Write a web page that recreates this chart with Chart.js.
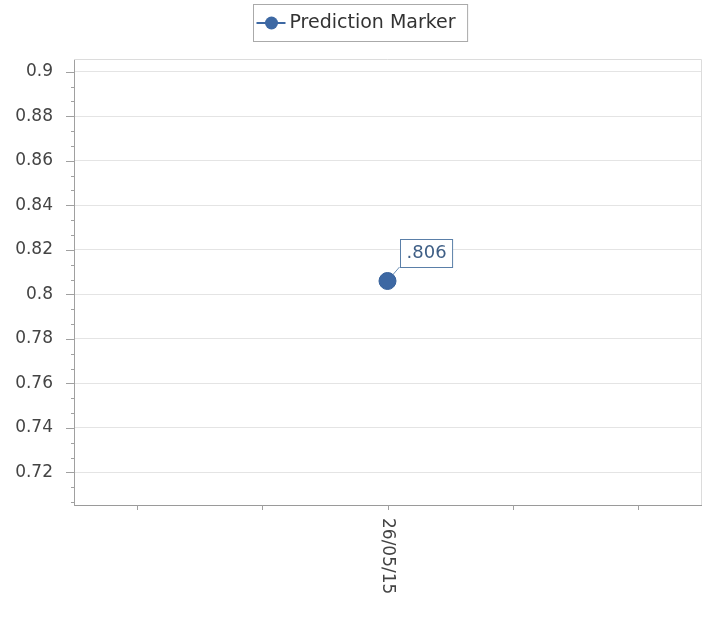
<!DOCTYPE html>
<html>
<head>
<meta charset="utf-8">
<script src="https://cdn.jsdelivr.net/npm/chart.js@4"></script>
<style>
  html, body { margin: 0; padding: 0; background: #fff; }
</style>
</head>
<body>
<canvas id="chart" width="714" height="618"></canvas>
<script>
const categories = ['', '', '26/05/15', '', ''];
const predictionValues = [null, null, 0.806, null, null];
const pointLabels = [null, null, '.806', null, null];
const yTickValues = [0.72, 0.74, 0.76, 0.78, 0.8, 0.82, 0.84, 0.86, 0.88, 0.9];
const yMin = 0.7054;
const yMax = 0.9057;
const seriesName = 'Prediction Marker';

const markerColor = '#3d68a3';
const fontFamily = '"DejaVu Sans", Verdana, sans-serif';

// frame, tick marks, label connector (under the point)
const decorPlugin = {
    id: 'decor',
    beforeDatasetsDraw(chart) {
        const { ctx, chartArea, scales } = chart;
        ctx.save();
        ctx.strokeStyle = '#dcdcdc';
        ctx.lineWidth = 1;
        ctx.beginPath();
        ctx.moveTo(chartArea.left, chartArea.top + 0.5);
        ctx.lineTo(chartArea.right + 0.5, chartArea.top + 0.5);
        ctx.lineTo(chartArea.right + 0.5, chartArea.bottom);
        ctx.stroke();

        // y ticks, major + two minor between each
        ctx.strokeStyle = '#a0a0a0';
        const step = (yTickValues[1] - yTickValues[0]) / 3;
        const first = yTickValues[0] - 3 * step;
        for (let i = 0; i < (yTickValues.length + 1) * 3; i++) {
            const v = first + i * step;
            if (v < yMin || v > yMax) continue;
            const y = Math.round(scales.y.getPixelForValue(v)) + 0.5;
            const len = i % 3 === 0 ? 8 : 3;
            ctx.beginPath();
            ctx.moveTo(chartArea.left - len, y);
            ctx.lineTo(chartArea.left, y);
            ctx.stroke();
        }

        // x ticks
        categories.forEach((c, i) => {
            const x = Math.round(scales.x.getPixelForValue(i)) + 0.5;
            ctx.beginPath();
            ctx.moveTo(x, chartArea.bottom);
            ctx.lineTo(x, chartArea.bottom + 5);
            ctx.stroke();
        });

        // connector for data labels
        const meta = chart.getDatasetMeta(0);
        ctx.strokeStyle = '#6d8fb5';
        meta.data.forEach((pt, i) => {
            if (!pointLabels[i] || predictionValues[i] == null) return;
            ctx.beginPath();
            ctx.moveTo(pt.x, pt.y);
            ctx.lineTo(pt.x + 12, pt.y - 14);
            ctx.stroke();
        });
        ctx.restore();
    },
    afterDraw(chart) {
        const { ctx, scales, chartArea } = chart;
        ctx.save();

        // data label boxes
        const meta = chart.getDatasetMeta(0);
        ctx.font = '18px ' + fontFamily;
        meta.data.forEach((pt, i) => {
            if (!pointLabels[i] || predictionValues[i] == null) return;
            const w = ctx.measureText(pointLabels[i]).width + 12;
            const left = Math.round(pt.x + 12) + 0.5;
            const bottom = Math.round(pt.y - 14) + 0.5;
            ctx.fillStyle = '#fff';
            ctx.fillRect(left, bottom - 28, w, 28);
            ctx.strokeStyle = '#5a7fa8';
            ctx.strokeRect(left, bottom - 28, w, 28);
            ctx.fillStyle = '#3e5e85';
            ctx.textAlign = 'left';
            ctx.textBaseline = 'middle';
            ctx.fillText(pointLabels[i], left + 6, bottom - 14);
        });

        // rotated x labels (reading downward)
        ctx.font = '17px ' + fontFamily;
        ctx.fillStyle = '#444';
        categories.forEach((c, i) => {
            if (!c) return;
            const x = scales.x.getPixelForValue(i);
            ctx.save();
            ctx.translate(x, chartArea.bottom + 13);
            ctx.rotate(Math.PI / 2);
            ctx.textAlign = 'left';
            ctx.textBaseline = 'middle';
            ctx.fillText(c, 0, 0);
            ctx.restore();
        });

        // legend
        ctx.font = '19px ' + fontFamily;
        const tw = ctx.measureText(seriesName).width;
        const bw = 36 + tw + 12;
        const bx = Math.round(360 - bw / 2) + 0.5;
        ctx.strokeStyle = '#aaaaaa';
        ctx.strokeRect(bx, 4.5, bw, 37);
        ctx.strokeStyle = markerColor;
        ctx.lineWidth = 2;
        ctx.beginPath();
        ctx.moveTo(bx + 3, 23);
        ctx.lineTo(bx + 32, 23);
        ctx.stroke();
        ctx.fillStyle = markerColor;
        ctx.beginPath();
        ctx.arc(bx + 18, 23, 6.5, 0, Math.PI * 2);
        ctx.fill();
        ctx.fillStyle = '#333';
        ctx.textAlign = 'left';
        ctx.textBaseline = 'middle';
        ctx.fillText(seriesName, bx + 36, 23);
        ctx.restore();
    }
};

new Chart(document.getElementById('chart').getContext('2d'), {
    type: 'line',
    data: {
        labels: categories,
        datasets: [{
            label: seriesName,
            data: predictionValues,
            showLine: false,
            pointRadius: 8.5,
            pointHoverRadius: 8.5,
            backgroundColor: markerColor,
            borderColor: '#35609a',
            pointBorderWidth: 1,
            clip: false
        }]
    },
    options: {
        responsive: false,
        animation: false,
        devicePixelRatio: 1,
        layout: { padding: { top: 59, right: 13, left: 0, bottom: 0 } },
        plugins: {
            legend: { display: false },
            tooltip: { enabled: false }
        },
        scales: {
            x: {
                type: 'category',
                offset: true,
                grid: { display: false, drawTicks: false },
                border: { color: '#9a9a9a' },
                ticks: { display: false },
                afterFit: (scale) => { scale.height = 113; }
            },
            y: {
                min: yMin,
                max: yMax,
                afterBuildTicks: (scale) => {
                    scale.ticks = yTickValues.map(v => ({ value: v }));
                },
                grid: { color: '#e4e4e4', drawTicks: false },
                border: { color: '#a0a0a0' },
                ticks: {
                    padding: 21,
                    color: '#444',
                    font: { family: fontFamily, size: 17 },
                    callback: (v) => String(+Number(v).toFixed(2))
                },
                afterFit: (scale) => { scale.width = 74; }
            }
        }
    },
    plugins: [decorPlugin]
});
</script>
</body>
</html>
